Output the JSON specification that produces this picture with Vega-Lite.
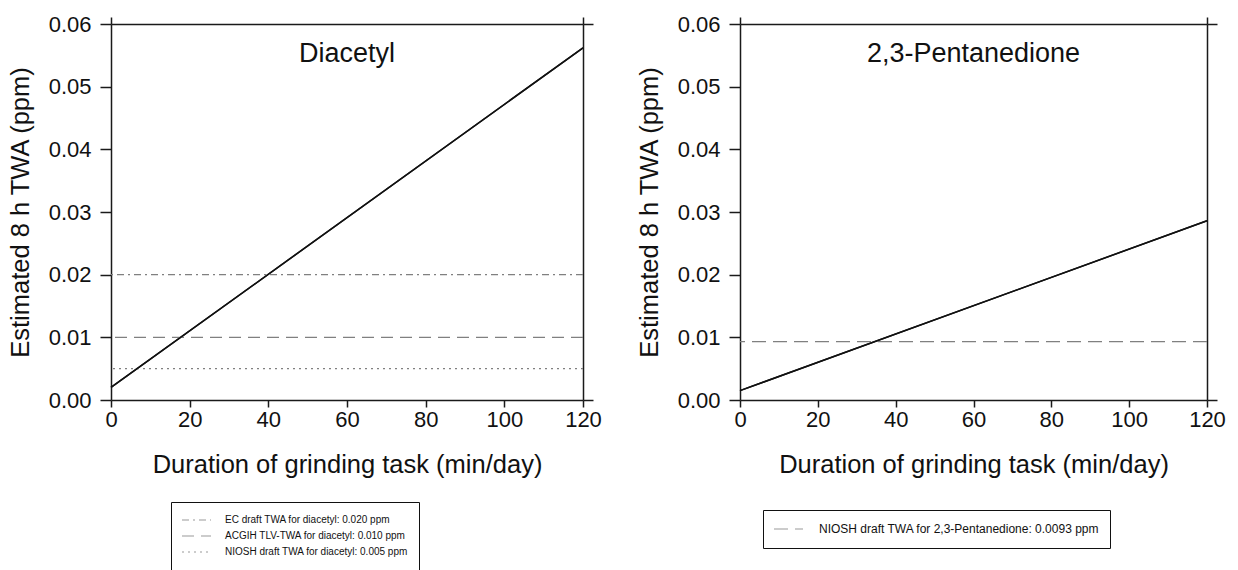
{
  "$schema": "https://vega.github.io/schema/vega-lite/v6.json",
  "padding": {"left": 8, "top": 13, "right": 5, "bottom": 5},
  "background": "white",
  "datasets": {
    "diacetyl": [{"duration": 0, "twa": 0.0020}, {"duration": 120, "twa": 0.0562}],
    "diacetyl_limits": [
      {"limit": "EC draft TWA for diacetyl: 0.020 ppm", "value": 0.020},
      {"limit": "ACGIH TLV-TWA for diacetyl: 0.010 ppm", "value": 0.010},
      {"limit": "NIOSH draft TWA for diacetyl: 0.005 ppm", "value": 0.005}
    ],
    "pentanedione": [{"duration": 0, "twa": 0.0015}, {"duration": 120, "twa": 0.0286}],
    "pentanedione_limits": [
      {"limit2": "NIOSH draft TWA for 2,3-Pentanedione: 0.0093 ppm", "value": 0.0093}
    ]
  },
  "spacing": 35,
  "resolve": {"scale": {"strokeDash": "independent"}, "legend": {"strokeDash": "independent"}},
  "hconcat": [
    {
      "width": 472,
      "height": 376,
      "title": {"text": "Diacetyl", "offset": -55, "baseline": "top", "fontSize": 27, "fontWeight": "normal", "font": "Liberation Sans", "color": "#111", "anchor": "middle"},
      "resolve": {"axis": {"x": "independent", "y": "independent"}},
      "layer": [
        {
          "data": {"name": "diacetyl"},
          "mark": {"type": "line", "color": "#111", "strokeWidth": 1.5},
          "encoding": {
            "x": {"field": "duration", "type": "quantitative", "scale": {"domain": [0, 120], "nice": false},
                  "axis": {"orient": "bottom", "values": [0, 20, 40, 60, 80, 100, 120], "title": "Duration of grinding task (min/day)", "titlePadding": 22, "labelPadding": 2}},
            "y": {"field": "twa", "type": "quantitative", "scale": {"domain": [0, 0.06], "nice": false, "zero": false},
                  "axis": {"orient": "left", "values": [0, 0.01, 0.02, 0.03, 0.04, 0.05, 0.06], "format": ".2f", "title": "Estimated 8 h TWA (ppm)", "titlePadding": 15, "labelPadding": 9, "tickSize": 11}}
          }
        },
        {
          "data": {"name": "diacetyl_limits"},
          "mark": {"type": "rule", "color": "#808080", "strokeWidth": 1.2},
          "encoding": {
            "y": {"field": "value", "type": "quantitative", "axis": {"orient": "right", "values": [0, 0.06], "labels": false, "title": null, "tickSize": 10}},
            "strokeDash": {"field": "limit", "type": "nominal",
              "scale": {"domain": ["EC draft TWA for diacetyl: 0.020 ppm", "ACGIH TLV-TWA for diacetyl: 0.010 ppm", "NIOSH draft TWA for diacetyl: 0.005 ppm"],
                        "range": [[7, 4, 2, 4], [12, 7], [2, 4]]},
              "legend": {"orient": "none", "legendX": 60, "legendY": 478, "labelFontSize": 10, "clipHeight": 16, "rowPadding": 0, "labelOffset": 13}}
          }
        },
        {
          "data": {"name": "diacetyl"},
          "mark": {"type": "line", "color": "#111", "strokeWidth": 1.5},
          "encoding": {
            "x": {"field": "duration", "type": "quantitative", "axis": {"orient": "top", "values": [0, 120], "labels": false, "title": null}},
            "y": {"field": "twa", "type": "quantitative", "axis": null}
          }
        }
      ]
    },
    {
      "width": 467,
      "height": 376,
      "title": {"text": "2,3-Pentanedione", "offset": -55, "baseline": "top", "fontSize": 27, "fontWeight": "normal", "font": "Liberation Sans", "color": "#111", "anchor": "middle"},
      "resolve": {"axis": {"x": "independent", "y": "independent"}},
      "layer": [
        {
          "data": {"name": "pentanedione"},
          "mark": {"type": "line", "color": "#111", "strokeWidth": 1.5},
          "encoding": {
            "x": {"field": "duration", "type": "quantitative", "scale": {"domain": [0, 120], "nice": false},
                  "axis": {"orient": "bottom", "values": [0, 20, 40, 60, 80, 100, 120], "title": "Duration of grinding task (min/day)", "titlePadding": 22, "labelPadding": 2}},
            "y": {"field": "twa", "type": "quantitative", "scale": {"domain": [0, 0.06], "nice": false, "zero": false},
                  "axis": {"orient": "left", "values": [0, 0.01, 0.02, 0.03, 0.04, 0.05, 0.06], "format": ".2f", "title": "Estimated 8 h TWA (ppm)", "titlePadding": 15, "labelPadding": 9, "tickSize": 11}}
          }
        },
        {
          "data": {"name": "pentanedione_limits"},
          "mark": {"type": "rule", "color": "#808080", "strokeWidth": 1.2},
          "encoding": {
            "y": {"field": "value", "type": "quantitative", "axis": {"orient": "right", "values": [0, 0.06], "labels": false, "title": null, "tickSize": 10}},
            "strokeDash": {"field": "limit2", "type": "nominal",
              "scale": {"domain": ["NIOSH draft TWA for 2,3-Pentanedione: 0.0093 ppm"], "range": [[14, 7]]},
              "legend": {"orient": "none", "legendX": 23, "legendY": 486, "labelFontSize": 12, "clipHeight": 18, "labelOffset": 15}}
          }
        },
        {
          "data": {"name": "pentanedione"},
          "mark": {"type": "line", "color": "#111", "strokeWidth": 1.5},
          "encoding": {
            "x": {"field": "duration", "type": "quantitative", "axis": {"orient": "top", "values": [0, 120], "labels": false, "title": null}},
            "y": {"field": "twa", "type": "quantitative", "axis": null}
          }
        }
      ]
    }
  ],
  "config": {
    "font": "Liberation Sans",
    "view": {"stroke": null},
    "axis": {
      "domainColor": "#1a1a1a", "domainWidth": 1.5, "tickColor": "#1a1a1a", "tickWidth": 1.5, "tickSize": 7,
      "grid": false, "labelFontSize": 22, "labelColor": "#111", "labelFont": "Liberation Sans", "labelFlush": false,
      "titleFontSize": 25.5, "titleFontWeight": "normal", "titleColor": "#111", "titleFont": "Liberation Sans"
    },
    "legend": {
      "title": null, "strokeColor": "#111", "padding": 10, "cornerRadius": 0, "fillColor": "white",
      "labelFont": "Liberation Sans", "labelColor": "#111", "labelLimit": 0, "symbolType": "stroke", "symbolSize": 841,
      "symbolStrokeColor": "#999", "symbolStrokeWidth": 1.2
    }
  }
}
